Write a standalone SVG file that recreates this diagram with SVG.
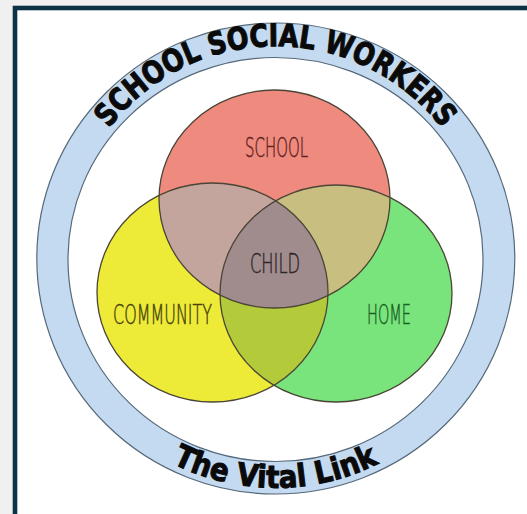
<svg xmlns="http://www.w3.org/2000/svg" width="527" height="514" viewBox="0 0 527 514">
<style>
.lbl{font-family:"DejaVu Sans","Liberation Sans",sans-serif;font-weight:200;font-size:26px;text-anchor:middle;stroke-width:0.5}
.arc{font-family:"DejaVu Sans","Liberation Sans",sans-serif;font-weight:bold;font-size:31px;fill:#0a0a0a;stroke:#0a0a0a;stroke-width:1.1}
.edge{fill:none;stroke:#4a4536;stroke-width:1.3}
.ring{stroke:#56697a;stroke-width:1.2}
</style>
<defs>
<clipPath id="cS"><ellipse cx="274.5" cy="199" rx="115.5" ry="109"/></clipPath>
<clipPath id="cC"><ellipse cx="212.5" cy="292.5" rx="115.5" ry="109.5"/></clipPath>
<path id="topArc" d="M68.3,222.0 A210,210 0 0 1 482.7,222.0"/>
<path id="botArc" d="M76.9,373.3 A229.5,229.5 0 0 0 474.1,373.3"/>
</defs>
<rect x="0" y="0" width="527" height="514" fill="#f0f0f0"/>
<rect x="15" y="8" width="540" height="530" fill="#ffffff" stroke="#0b3247" stroke-width="4.6"/>
<g id="ring">
<ellipse cx="275.8" cy="258.5" rx="239" ry="235.5" fill="#c4daf0" class="ring"/>
<ellipse cx="275.5" cy="259.5" rx="207.5" ry="202" fill="#ffffff" class="ring"/>
<text class="arc"><textPath href="#topArc" startOffset="50%" text-anchor="middle" textLength="385" lengthAdjust="spacingAndGlyphs">SCHOOL SOCIAL WORKERS</textPath></text>
<text class="arc"><textPath href="#botArc" startOffset="50%" text-anchor="middle" textLength="214" lengthAdjust="spacingAndGlyphs">The Vital Link</textPath></text>
</g>
<g id="venn">
<g id="community"><ellipse cx="212.5" cy="292.5" rx="115.5" ry="109.5" fill="#eeea38"/></g>
<g id="home"><ellipse cx="336" cy="293.5" rx="116" ry="108.5" fill="#78e47b"/></g>
<g id="school"><ellipse cx="274.5" cy="199" rx="115.5" ry="109" fill="#ef8a7e"/></g>
<g id="overlaps">
<ellipse cx="212.5" cy="292.5" rx="115.5" ry="109.5" fill="#c4a59e" clip-path="url(#cS)"/>
<ellipse cx="336" cy="293.5" rx="116" ry="108.5" fill="#c7be7f" clip-path="url(#cS)"/>
<ellipse cx="336" cy="293.5" rx="116" ry="108.5" fill="#b3cb3a" clip-path="url(#cC)"/>
<g clip-path="url(#cS)"><ellipse cx="336" cy="293.5" rx="116" ry="108.5" fill="#a08c8d" clip-path="url(#cC)"/></g>
</g>
<g id="outlines">
<ellipse cx="274.5" cy="199" rx="115.5" ry="109" class="edge"/>
<ellipse cx="212.5" cy="292.5" rx="115.5" ry="109.5" class="edge"/>
<ellipse cx="336" cy="293.5" rx="116" ry="108.5" class="edge"/>
</g>
<text class="lbl" x="276.5" y="157" fill="#5e2222" stroke="#5e2222" textLength="63" lengthAdjust="spacingAndGlyphs">SCHOOL</text>
<text class="lbl" x="275" y="273" fill="#2e2626" stroke="#2e2626" textLength="50" lengthAdjust="spacingAndGlyphs">CHILD</text>
<text class="lbl" x="162.5" y="324" fill="#45420c" stroke="#45420c" textLength="99" lengthAdjust="spacingAndGlyphs">COMMUNITY</text>
<text class="lbl" x="389" y="324" fill="#1a5e24" stroke="#1a5e24" textLength="44" lengthAdjust="spacingAndGlyphs">HOME</text>
</g>
</svg>
